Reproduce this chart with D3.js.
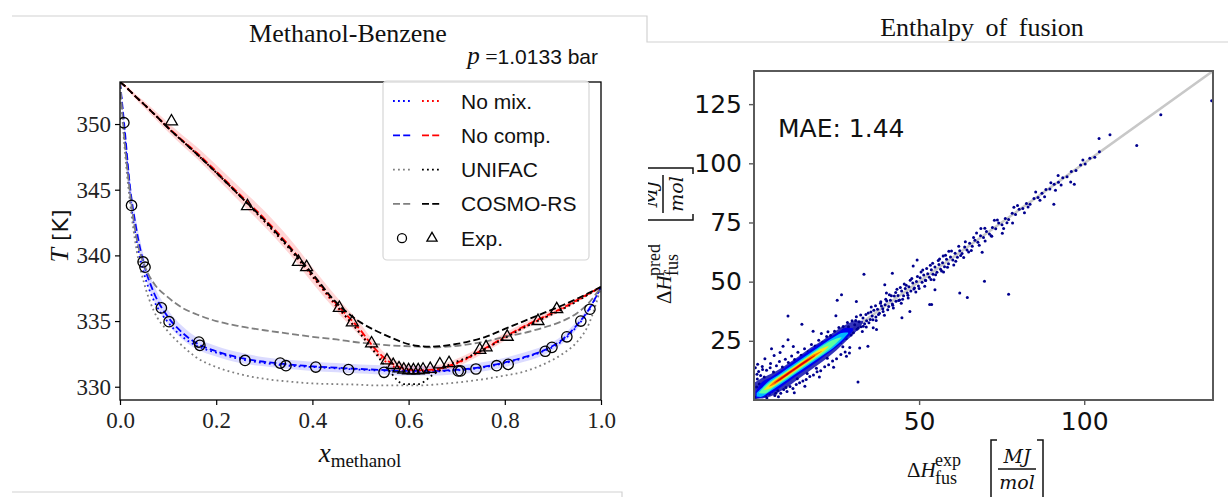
<!DOCTYPE html>
<html lang="en">
<head>
<meta charset="utf-8">
<title>Methanol-Benzene / Enthalpy of fusion</title>
<style>
  body { margin: 0; background: #fff; }
  svg { display: block; }
</style>
</head>
<body>
<script src="https://cdnjs.cloudflare.com/ajax/libs/d3/7.9.0/d3.min.js"></script>
<script>

// ---------- left panel: T-x diagram, methanol-benzene ----------
const xGrid = [0, 0.01, 0.02, 0.035, 0.05, 0.07, 0.1, 0.13, 0.16, 0.2, 0.25, 0.3, 0.35, 0.4, 0.45, 0.5,
               0.53, 0.56, 0.59, 0.62, 0.65, 0.68, 0.72, 0.76, 0.8, 0.84, 0.88, 0.92, 0.95, 0.975, 1.0];

const noMixBubble  = [353.2, 349.0, 344.8, 341.0, 338.6, 336.6, 334.9, 333.8, 333.1, 332.6, 332.1, 331.8, 331.6, 331.5, 331.4, 331.3,
                      331.25, 331.2, 331.15, 331.15, 331.15, 331.2, 331.3, 331.5, 331.8, 332.2, 332.7, 333.5, 334.6, 335.8, 337.6];
const noCompBubble = [353.2, 349.5, 345.5, 341.8, 339.3, 337.2, 335.3, 334.1, 333.3, 332.7, 332.2, 331.9, 331.7, 331.55, 331.45, 331.35,
                      331.3, 331.25, 331.2, 331.2, 331.2, 331.25, 331.35, 331.55, 331.85, 332.25, 332.75, 333.6, 334.7, 335.9, 337.6];
const noCompBubbleUnc = [0, 0.3, 0.5, 0.6, 0.6, 0.6, 0.55, 0.5, 0.45, 0.4, 0.4, 0.35, 0.35, 0.35, 0.35, 0.35,
                         0.35, 0.35, 0.35, 0.35, 0.35, 0.35, 0.35, 0.35, 0.35, 0.35, 0.35, 0.3, 0.3, 0.2, 0];
const unifacBubble = [353.2, 348.0, 344.3, 340.3, 337.9, 335.8, 334.2, 333.1, 332.2, 331.5, 330.95, 330.6, 330.4, 330.25, 330.2, 330.15,
                      330.1, 330.1, 330.1, 330.1, 330.15, 330.25, 330.4, 330.6, 330.85, 331.15, 331.7, 332.5, 333.4, 334.8, 337.6];
const cosmoBubble  = [353.2, 348.5, 345.0, 341.2, 339.3, 337.9, 336.8, 336.0, 335.5, 335.0, 334.6, 334.3, 334.05, 333.8, 333.6, 333.35,
                      333.25, 333.15, 333.1, 333.05, 333.0, 333.05, 333.2, 333.45, 333.8, 334.1, 334.5, 335.0, 335.6, 336.4, 337.6];

const noMixDew  = [353.2, 352.9, 352.55, 352.0, 351.5, 350.8, 349.7, 348.7, 347.7, 346.3, 344.5, 342.6, 340.6, 338.4, 336.1, 334.1,
                   332.7, 331.7, 331.3, 331.2, 331.25, 331.5, 332.1, 332.9, 333.75, 334.55, 335.25, 335.95, 336.55, 337.05, 337.6];
const noCompDew = [353.2, 352.9, 352.55, 352.0, 351.5, 350.8, 349.75, 348.75, 347.8, 346.4, 344.6, 342.8, 340.8, 338.5, 336.3, 334.3,
                   332.9, 331.9, 331.4, 331.25, 331.3, 331.55, 332.15, 332.95, 333.8, 334.6, 335.3, 336.0, 336.6, 337.1, 337.6];
const noCompDewUnc = [0, 0.1, 0.15, 0.2, 0.25, 0.3, 0.35, 0.4, 0.45, 0.5, 0.55, 0.6, 0.6, 0.6, 0.55, 0.5,
                      0.45, 0.4, 0.35, 0.3, 0.3, 0.3, 0.3, 0.3, 0.3, 0.25, 0.25, 0.2, 0.15, 0.1, 0];
const unifacDew = [353.2, 352.9, 352.55, 352.0, 351.5, 350.8, 349.7, 348.7, 347.7, 346.3, 344.5, 342.6, 340.6, 338.4, 336.2, 334.0,
                   332.6, 331.2, 330.2, 330.2, 330.9, 331.6, 332.2, 332.9, 333.7, 334.5, 335.2, 335.9, 336.5, 337.05, 337.6];
const cosmoDew  = [353.2, 352.9, 352.55, 352.0, 351.5, 350.8, 349.7, 348.7, 347.7, 346.3, 344.5, 342.7, 340.7, 338.6, 336.4, 334.9,
                   334.3, 333.8, 333.35, 333.1, 333.05, 333.15, 333.4, 333.8, 334.4, 335.0, 335.6, 336.2, 336.7, 337.15, 337.6];

// experimental bubble points (circles) and dew points (triangles)
const expBubbleX = [0.008, 0.024, 0.048, 0.052, 0.086, 0.102, 0.164, 0.166, 0.26, 0.333, 0.345, 0.407, 0.475, 0.549,
                    0.703, 0.708, 0.74, 0.783, 0.807, 0.884, 0.898, 0.929, 0.958, 0.977];
const expBubbleT = [350.1, 343.8, 339.5, 339.1, 336.0, 334.95, 333.4, 333.15, 332.0, 331.8, 331.6, 331.5, 331.3, 331.1,
                    331.2, 331.2, 331.35, 331.6, 331.7, 332.7, 333.0, 333.8, 335.0, 335.9];
const expDewX = [0.107, 0.265, 0.371, 0.388, 0.456, 0.483, 0.523, 0.555, 0.568, 0.58, 0.59, 0.60, 0.61, 0.62, 0.63, 0.645,
                 0.665, 0.684, 0.748, 0.761, 0.805, 0.869, 0.908];
const expDewT = [350.2, 343.75, 339.5, 339.1, 336.0, 334.9, 333.3, 332.0, 331.65, 331.4, 331.3, 331.25, 331.25, 331.25, 331.3, 331.35,
                 331.7, 331.8, 332.8, 333.0, 333.8, 335.0, 335.9];

const tempTicks = [330, 335, 340, 345, 350];
const fracTicks = [0, 0.2, 0.4, 0.6, 0.8, 1.0];
const legendLabels = ["No mix.", "No comp.", "UNIFAC", "COSMO-RS", "Exp."];

// ---------- right panel: enthalpy of fusion parity plot ----------
const fusTicksX = [50, 100];
const fusTicksY = [25, 50, 75, 100, 125];
const fusRange = [0, 139];
const maeText = "MAE: 1.44";

// density bands of the crowded region [exp, predLow, predHigh], from low to high density
const bandNavy   = [[0.3,0.5,7.5],[2,0.6,9],[5,1.5,11],[9,4.5,14.2],[13,8.5,18],[17,12.5,22],[21,16.5,25.5],[25,21,29.5],[28,25,32],[31,29,33.5],[33,32.5,33.5]];
const bandBlue   = [[0.5,0.8,3.5],[2,0.9,7.0],[5,2.5,9.5],[9,6.3,13.3],[13,10.3,17.3],[17,14.1,21.1],[21,18.2,24.8],[25,22.4,28.2],[28,26.0,30.5],[30,29.3,30.3]];
const bandCyan   = [[0.8,1.5,3.0],[2,1.3,4.6],[4,2.9,7.4],[8,6.6,11.2],[12,10.5,15.1],[16,14.3,18.9],[20,18.1,22.7],[24,22.0,26.4],[27,25.8,28.4],[28.5,28.1,28.5]];
const bandGreen  = [[1.5,2.9,3.1],[3,2.7,5.5],[6,5.4,8.8],[10,9.1,12.5],[14,13.0,16.4],[18,16.8,20.2],[22,20.6,24.0],[25,24.2,26.0],[26.5,26.3,26.5]];
const bandYellow = [[3,4.2,4.3],[5,5.0,7.2],[8,7.8,10.0],[12,11.7,13.9],[16,15.5,17.7],[20,19.4,21.4],[22.5,22.4,22.8]];
const bandOrange = [[4.5,5.6,5.7],[6.5,6.8,8.2],[10,10.1,11.6],[14,14.0,15.4],[18,17.9,19.2],[20.5,20.5,20.7]];
const bandRed    = [[6,7.0,7.1],[8,8.5,9.3],[12,12.4,13.2],[16,16.2,17.0],[18.5,18.7,18.9]];
const bandColors = ["#0000a8", "#0000f0", "#00b8ff", "#5cffa0", "#ffe41a", "#ff7a00", "#dd0000"];

// individual points [exp, pred]
const fusionPoints = [
  [0.5,1.2],[0.8,5.5],[1.0,8.9],[1.2,3.1],[1.4,12.0],[1.6,6.8],[2.0,10.4],[2.2,2.0],[2.5,14.2],[2.8,4.6],[3.1,9.7],[3.5,1.8],
  [3.8,12.6],[4.2,7.9],[4.6,2.5],[5.0,15.4],[5.4,3.6],[5.9,11.8],[6.3,1.9],[6.8,14.5],[7.2,4.0],[7.7,16.3],[8.1,2.8],[8.6,13.9],
  [9.0,4.4],[9.5,17.2],[10.0,3.6],[10.4,15.8],[10.9,5.7],[11.4,18.6],[11.8,4.9],[12.3,17.1],[12.8,6.5],[13.3,20.2],[13.8,7.3],
  [14.3,18.9],[14.8,8.0],[15.3,21.6],[15.8,8.7],[16.4,20.4],[16.9,9.9],[17.4,23.5],[18.0,10.6],[18.5,22.8],[19.1,11.9],[19.6,25.2],
  [20.2,12.4],[20.8,24.3],[21.4,14.0],[22.0,26.8],[22.6,14.9],[23.2,27.3],[23.8,16.5],[24.4,29.0],[25.0,17.4],[25.7,30.6],
  [26.3,19.2],[27.0,31.1],[27.6,20.3],[28.3,32.7],[29.0,22.2],[29.7,33.5],
  [0.4,13.6],[1.1,15.1],[3.3,17.4],[6.1,18.8],[7.9,20.1],[11.9,22.6],[3.9,0.8],[7.4,1.4],[12.2,3.1],[15.4,5.8],[19.8,9.7],
  [24.1,13.8],[0.9,10.9],[2.6,12.9],[4.9,13.6],[6.6,2.9],[9.7,5.3],[13.1,9.0],[16.1,11.2],[18.9,13.4],[22.2,17.6],[26.9,22.5],
  [30.5,31.8],[31.2,29.9],[31.8,33.1],[32.4,31.0],[33.0,34.6],[33.5,32.2],[34.1,33.5],[34.6,36.8],[35.2,34.0],[35.8,35.5],
  [36.3,37.9],[36.9,35.1],[37.4,38.3],[38.0,36.6],[38.6,39.7],[39.1,37.4],[39.7,40.2],[40.2,41.8],[40.8,39.5],[41.3,42.1],
  [41.9,40.6],[42.5,43.9],[43.0,41.7],[43.6,44.2],[44.1,42.3],[44.7,46.0],[45.3,44.0],[45.8,47.1],[46.4,45.2],[46.9,47.8],
  [47.5,46.0],[48.1,49.4],[48.6,47.3],[49.2,50.1],[49.8,48.2],[50.3,51.6],[50.9,49.7],[51.4,52.8],[52.0,50.5],[52.6,53.3],
  [53.1,51.9],[53.7,55.0],[54.2,53.1],[54.8,56.2],[55.4,54.0],[56.0,57.3],[56.5,55.2],[57.1,58.0],[57.7,56.3],[58.3,59.5],
  [58.9,57.6],[59.5,60.4],[60.2,59.1],[60.9,62.0],[61.6,60.3],[62.3,63.1],[63.0,61.9],[63.8,64.6],[64.5,63.4],[65.3,66.2],
  [66.1,65.0],[66.9,67.5],[67.8,66.6],[68.6,69.4],[69.5,68.7],[70.4,71.2],[71.3,70.1],[72.2,72.9],[73.2,72.3],[74.1,74.8],
  [75.1,74.0],[76.1,76.7],[77.1,76.3],[78.2,78.9],[79.2,78.4],[80.3,80.6],[81.4,80.9],[82.5,83.0],[83.6,82.7],[84.8,85.1],
  [86.0,85.6],[87.2,87.4],[88.4,88.9],[89.6,89.1],[90.9,91.2],[92.2,92.0],[93.5,93.9],[94.8,94.3],[96.1,96.5],[97.5,97.0],
  [98.9,99.3],[100.3,99.7],[101.7,102.1],[103.2,102.6],[104.6,104.9],
  [31.0,35.2],[32.8,28.9],[34.0,30.8],[35.5,39.3],[37.0,33.6],[38.4,41.5],[39.5,35.8],[41.0,44.5],[42.2,38.9],[43.3,46.8],
  [44.6,40.9],[45.5,49.0],[46.7,43.1],[47.8,51.3],[49.0,45.6],[50.6,54.1],[51.7,48.1],[53.4,56.9],[54.5,50.8],[56.2,59.6],
  [57.4,54.1],[59.0,62.8],[60.5,57.0],[62.0,65.0],[63.5,60.2],[65.8,63.2],[67.4,70.6],[70.0,67.2],[72.8,75.9],[75.6,72.5],
  [78.7,81.4],[81.9,79.1],[85.3,87.9],[88.0,85.9],
  [25.5,27.9],[26.2,24.3],[27.1,29.6],[27.9,26.0],[28.6,30.9],[29.4,27.5],[30.1,28.4],[30.8,33.6],[31.6,30.4],[32.3,35.9],
  [33.1,31.2],[33.9,36.1],[34.8,32.6],[35.4,37.2],[36.0,33.9],[36.8,39.8],[37.7,36.1],[38.3,40.9],[39.0,38.6],[39.9,42.6],
  [40.5,38.1],[41.6,44.0],[42.0,40.0],[42.9,45.4],[43.8,42.0],[44.3,47.5],[45.0,42.6],[46.1,48.5],[46.6,44.3],[47.3,50.6],
  [48.4,46.9],[49.5,52.2],[50.0,47.1],[51.1,54.9],[51.9,50.6],[52.3,55.6],[53.6,50.9],[54.1,57.8],[55.0,52.9],[55.8,58.9],
  [56.8,54.5],[58.0,61.2],[58.6,56.1],[59.8,63.0],[61.1,58.6],[62.6,61.0],[64.0,66.9],[65.0,62.5],[66.5,68.7],[68.2,65.4],
  [69.9,72.6],[71.8,69.4],[73.7,76.1],[76.6,74.9],[79.8,82.2],[83.0,81.5],[86.6,84.4],[89.9,91.8],[93.0,90.8],[99.6,101.4],
  [33.3,53.1],[41.9,53.6],[48.2,56.6],[57.3,60.8],[54.8,46.6],[53.2,40.3],[44.8,34.7],[47.2,37.4],[40.1,45.2],[39.6,48.7],
  [31.0,41.6],[25.2,42.1],[26.5,44.5],[24.8,35.6],[10.3,35.5],[14.5,32.0],[10.3,25.5],[5.3,21.6],[8.8,22.7],[17.9,29.0],
  [20.4,28.1],[22.4,28.8],[31.5,7.6],[34.5,22.7],[32.0,22.0],[28.0,18.5],[28.9,19.9],[36.1,30.5],[37.1,29.8],[69.8,50.2],
  [77.1,44.7],[64.6,43.3],[62.3,45.2],[53.8,40.4],[49.4,59.2],[138.6,126.4],[123.2,120.5],[115.9,107.5],[107.8,112.1],
  [104.5,110.5],[97.0,91.1],[95.9,92.1],[90.8,82.7],[69.1,62.4],[75.2,70.5],[72.0,69.2],[78.3,74.8],[91.3,88.6],[92.1,94.9],
  [68.7,72.5]
];

const W = 1228, H = 497;
const svg = d3.select("body").append("svg")
    .attr("width", W)
    .attr("height", H)
    .style("background", "#fff");

const serif = "'Liberation Serif', 'Times New Roman', serif";
const sans = "'Liberation Sans', Arial, sans-serif";
const dvSans = "'DejaVu Sans', sans-serif";

// slide frame lines
svg.append("path")
    .attr("d", "M12,16H647V42H1228M12,492H622V497")
    .attr("fill", "none")
    .attr("stroke", "#d2d2d2")
    .attr("stroke-width", 1.2);

// ================= LEFT PANEL =================
const L = {left: 120, right: 601, top: 82, bottom: 400};
const xS = d3.scaleLinear().domain([0, 1]).range([L.left, L.right]);
const yS = d3.scaleLinear().domain([328.99, 353.2]).range([L.bottom, L.top]);

svg.append("defs").append("clipPath").attr("id", "clipL")
  .append("rect").attr("x", L.left).attr("y", L.top)
  .attr("width", L.right - L.left).attr("height", L.bottom - L.top);

const gl = svg.append("g").attr("clip-path", "url(#clipL)");

const band = (vals, unc) => d3.area()
    .x((d, i) => xS(xGrid[i]))
    .y0((d, i) => yS(d - unc[i]))
    .y1((d, i) => yS(d + unc[i]))
    .curve(d3.curveMonotoneX)(vals);

const curve = vals => d3.line()
    .x((d, i) => xS(xGrid[i]))
    .y(d => yS(d))
    .curve(d3.curveMonotoneX)(vals);

gl.append("path").attr("d", band(noCompBubble, noCompBubbleUnc)).attr("fill", "#0000ff").attr("opacity", 0.14);
gl.append("path").attr("d", band(noCompDew, noCompDewUnc)).attr("fill", "#ff0000").attr("opacity", 0.16);

const DOT = "1.8,3.2", DASH = "7,3.2";
const series = [
  {v: noMixBubble,  c: "#0000ff", d: DOT},
  {v: noCompBubble, c: "#0000ff", d: DASH},
  {v: noMixDew,     c: "#ff0000", d: DOT},
  {v: noCompDew,    c: "#ff0000", d: DASH},
  {v: unifacBubble, c: "#7f7f7f", d: DOT},
  {v: cosmoBubble,  c: "#7f7f7f", d: DASH},
  {v: unifacDew,    c: "#000000", d: DOT},
  {v: cosmoDew,     c: "#000000", d: DASH}
];
series.forEach(s => {
  gl.append("path")
    .attr("d", curve(s.v))
    .attr("fill", "none")
    .attr("stroke", s.c)
    .attr("stroke-width", 1.8)
    .attr("stroke-dasharray", s.d);
});

gl.selectAll(".circ").data(expBubbleX).enter().append("circle")
    .attr("cx", d => xS(d))
    .attr("cy", (d, i) => yS(expBubbleT[i]))
    .attr("r", 5.2)
    .attr("fill", "none")
    .attr("stroke", "#000")
    .attr("stroke-width", 1.3);

const tri = d3.symbol().type(d3.symbolTriangle).size(62);
gl.selectAll(".tri").data(expDewX).enter().append("path")
    .attr("d", tri)
    .attr("transform", (d, i) => `translate(${xS(d)},${yS(expDewT[i])})`)
    .attr("fill", "none")
    .attr("stroke", "#000")
    .attr("stroke-width", 1.3);

// frame
svg.append("rect")
    .attr("x", L.left).attr("y", L.top)
    .attr("width", L.right - L.left).attr("height", L.bottom - L.top)
    .attr("fill", "none").attr("stroke", "#000").attr("stroke-width", 1.3);

const axL = svg.append("g")
    .attr("transform", `translate(${L.left},0)`)
    .call(d3.axisLeft(yS).tickValues(tempTicks).tickSize(5).tickPadding(4).tickFormat(d3.format("d")));
const axB = svg.append("g")
    .attr("transform", `translate(0,${L.bottom})`)
    .call(d3.axisBottom(xS).tickValues(fracTicks).tickSize(5).tickPadding(7).tickFormat(d3.format(".1f")));
[axL, axB].forEach(a => {
  a.select(".domain").remove();
  a.selectAll("line").attr("stroke", "#000").attr("stroke-width", 1.2);
  a.selectAll("text").attr("font-family", serif).attr("font-size", 23).attr("fill", "#222");
});

// legend
const lg = svg.append("g");
lg.append("rect")
    .attr("x", 383).attr("y", 81).attr("width", 206).attr("height", 179).attr("rx", 4)
    .attr("fill", "#fff").attr("fill-opacity", 0.85)
    .attr("stroke", "#d6d6d6").attr("stroke-width", 1.2);
const legendStyles = [
  ["#0000ff", "#ff0000", DOT], ["#0000ff", "#ff0000", DASH],
  ["#7f7f7f", "#000000", DOT], ["#7f7f7f", "#000000", DASH]
];
legendLabels.forEach((lab, i) => {
  const y = 101 + i * 34.3;
  if (i < 4) {
    const st = legendStyles[i];
    lg.append("line").attr("x1", 393).attr("x2", 413).attr("y1", y).attr("y2", y)
      .attr("stroke", st[0]).attr("stroke-width", 1.8).attr("stroke-dasharray", st[2]);
    lg.append("line").attr("x1", 422).attr("x2", 442).attr("y1", y).attr("y2", y)
      .attr("stroke", st[1]).attr("stroke-width", 1.8).attr("stroke-dasharray", st[2]);
  } else {
    lg.append("circle").attr("cx", 402).attr("cy", y).attr("r", 4.5)
      .attr("fill", "none").attr("stroke", "#000").attr("stroke-width", 1.3);
    lg.append("path").attr("d", d3.symbol().type(d3.symbolTriangle).size(45))
      .attr("transform", `translate(432,${y})`)
      .attr("fill", "none").attr("stroke", "#000").attr("stroke-width", 1.3);
  }
  lg.append("text").attr("x", 461).attr("y", y).attr("dy", "0.36em")
    .attr("font-family", sans).attr("font-size", 21).attr("fill", "#111").text(lab);
});

// titles and labels
svg.append("text").attr("x", 348).attr("y", 42).attr("text-anchor", "middle")
   .attr("font-family", serif).attr("font-size", 26).attr("fill", "#111").text("Methanol-Benzene");
const pt = svg.append("text").attr("x", 598).attr("y", 64).attr("text-anchor", "end").attr("fill", "#111");
pt.append("tspan").attr("font-family", serif).attr("font-style", "italic").attr("font-size", 25).text("p");
pt.append("tspan").attr("font-family", serif).attr("font-size", 22).text(" =");
pt.append("tspan").attr("font-family", sans).attr("font-size", 21).text("1.0133 bar");

const tl = svg.append("text").attr("transform", "translate(68,236) rotate(-90)")
   .attr("text-anchor", "middle").attr("fill", "#111");
tl.append("tspan").attr("font-family", serif).attr("font-style", "italic").attr("font-size", 26).text("T");
tl.append("tspan").attr("font-family", dvSans).attr("font-size", 22).text(" [K]");

const xl = svg.append("text").attr("x", 360).attr("y", 462).attr("text-anchor", "middle").attr("fill", "#111");
xl.append("tspan").attr("font-family", serif).attr("font-style", "italic").attr("font-size", 27).text("x");
xl.append("tspan").attr("font-family", serif).attr("font-size", 19).attr("dy", 5).text("methanol");

// ================= RIGHT PANEL =================
const R = {left: 754, right: 1213, top: 71, bottom: 400};
const xH = d3.scaleLinear().domain(fusRange).range([R.left, R.right]);
const yH = d3.scaleLinear().domain(fusRange).range([R.bottom, R.top]);

svg.select("defs").append("clipPath").attr("id", "clipR")
  .append("rect").attr("x", R.left).attr("y", R.top)
  .attr("width", R.right - R.left).attr("height", R.bottom - R.top);

const gr = svg.append("g").attr("clip-path", "url(#clipR)");

gr.append("line")
    .attr("x1", xH(fusRange[0])).attr("y1", yH(fusRange[0]))
    .attr("x2", xH(fusRange[1])).attr("y2", yH(fusRange[1]))
    .attr("stroke", "#c8c8c8").attr("stroke-width", 2.6);

const bandArea = d3.area()
    .x(d => xH(d[0])).y0(d => yH(d[1])).y1(d => yH(d[2]))
    .curve(d3.curveMonotoneX);

gr.append("path").attr("d", bandArea(bandNavy)).attr("fill", bandColors[0]).attr("opacity", 0.8);

gr.selectAll(".pt").data(fusionPoints).enter().append("circle")
    .attr("cx", d => xH(d[0]))
    .attr("cy", d => yH(d[1]))
    .attr("r", 1.5)
    .attr("fill", "#00008e");

[bandBlue, bandCyan, bandGreen, bandYellow, bandOrange, bandRed].forEach((b, i) => {
  gr.append("path").attr("d", bandArea(b)).attr("fill", bandColors[i + 1]);
});

svg.append("rect")
    .attr("x", R.left).attr("y", R.top)
    .attr("width", R.right - R.left).attr("height", R.bottom - R.top)
    .attr("fill", "none").attr("stroke", "#5a5a5a").attr("stroke-width", 2);

const axRL = svg.append("g")
    .attr("transform", `translate(${R.left},0)`)
    .call(d3.axisLeft(yH).tickValues(fusTicksY).tickSize(5).tickPadding(7));
const axRB = svg.append("g")
    .attr("transform", `translate(0,${R.bottom})`)
    .call(d3.axisBottom(xH).tickValues(fusTicksX).tickSize(5).tickPadding(7));
[axRL, axRB].forEach(a => {
  a.select(".domain").remove();
  a.selectAll("line").attr("stroke", "#5a5a5a").attr("stroke-width", 1.4);
  a.selectAll("text").attr("font-family", dvSans).attr("font-size", 25).attr("fill", "#111");
});

svg.append("text").attr("x", 778).attr("y", 137)
   .attr("font-family", dvSans).attr("font-size", 25).attr("fill", "#111").text(maeText);

svg.append("text").attr("x", 982).attr("y", 36).attr("text-anchor", "middle")
   .attr("font-family", serif).attr("font-size", 26).attr("word-spacing", 5).attr("fill", "#111")
   .text("Enthalpy of fusion");

// axis label:  ΔH_fus^{sup} [MJ/mol], built horizontally from its baseline origin
function fusLabel(g, sup) {
  const t = g.append("text").attr("font-family", serif).attr("font-size", 21).attr("fill", "#111");
  t.append("tspan").text("Δ");
  t.append("tspan").attr("font-style", "italic").text("H");
  g.append("text").attr("x", 28).attr("y", -11).attr("font-family", serif).attr("font-size", 18)
   .attr("fill", "#111").text(sup);
  g.append("text").attr("x", 28).attr("y", 7).attr("font-family", serif).attr("font-size", 18)
   .attr("fill", "#111").text("fus");
  const b0 = 84, b1 = 136, top = -37, bot = 22;
  g.append("path")
   .attr("d", `M${b0 + 6},${top}H${b0}V${bot}H${b0 + 6}M${b1 - 6},${top}H${b1}V${bot}H${b1 - 6}M${b0 + 7},-8H${b1 - 7}`)
   .attr("fill", "none").attr("stroke", "#111").attr("stroke-width", 1.5);
  g.append("text").attr("x", 110).attr("y", -14).attr("text-anchor", "middle")
   .attr("font-family", "'DejaVu Serif', serif").attr("font-style", "italic").attr("font-size", 19)
   .attr("fill", "#111").text("MJ");
  g.append("text").attr("x", 110).attr("y", 12).attr("text-anchor", "middle")
   .attr("font-family", "'DejaVu Serif', serif").attr("font-style", "italic").attr("font-size", 19)
   .attr("fill", "#111").text("mol");
}

svg.select("defs").append("clipPath").attr("id", "clipY")
  .append("rect").attr("x", 648).attr("y", 43).attr("width", 100).attr("height", 300);

fusLabel(svg.append("g").attr("transform", "translate(907,477)"), "exp");
fusLabel(svg.append("g").attr("clip-path", "url(#clipY)")
            .append("g").attr("transform", "translate(671,304) rotate(-90)"), "pred");

</script>
</body>
</html>
